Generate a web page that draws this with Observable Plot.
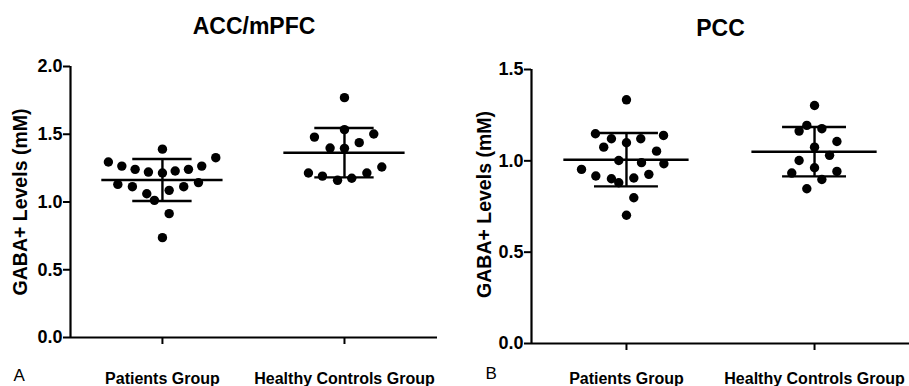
<!DOCTYPE html>
<html>
<head>
<meta charset="utf-8">
<script src="https://cdn.jsdelivr.net/npm/d3@7"></script>
<script src="https://cdn.jsdelivr.net/npm/@observablehq/plot@0.6"></script>
<style>
  html, body { margin: 0; padding: 0; background: white; }
  #wrap { position: relative; width: 909px; height: 386px; overflow: hidden; }
  #wrap svg { position: absolute; top: 0; }
</style>
</head>
<body>
<div id="wrap"></div>
<script>
// Categories
const groups = ["Patients Group", "Healthy Controls Group"];
const yTicksA = [0, 0.5, 1.0, 1.5, 2.0];
const yTicksB = [0, 0.5, 1.0, 1.5];

// Panel A: ACC/mPFC GABA+ (mM)
const accPatients = [1.39, 1.295, 1.327, 1.265, 1.265, 1.241, 1.221, 1.214, 1.229, 1.241, 1.130, 1.113, 1.113, 1.143, 1.086, 1.061, 1.012, 0.914, 0.737];
const accPatientsJitter = [0, -0.297, 0.293, -0.223, 0.216, -0.150, -0.077, 0, 0.070, 0.143, -0.245, -0.165, 0.117, 0.198, 0.037, -0.086, -0.044, 0.037, 0];
const accControls = [1.77, 1.479, 1.534, 1.502, 1.398, 1.396, 1.438, 1.214, 1.191, 1.160, 1.175, 1.214, 1.258];
const accControlsJitter = [0, -0.165, 0, 0.161, -0.079, 0, 0.081, -0.198, -0.121, -0.038, 0.040, 0.123, 0.205];
const accMean = [1.162, 1.364];
const accSD = [0.155, 0.182];

// Panel B: PCC GABA+ (mM)
const pccPatients = [1.334, 1.148, 1.139, 1.121, 1.121, 1.099, 1.075, 1.053, 1.002, 0.990, 0.984, 0.953, 0.917, 0.926, 0.902, 0.906, 0.880, 0.798, 0.702];
const pccPatientsJitter = [0, -0.165, 0.197, -0.080, 0.076, 0, -0.121, 0.160, -0.041, 0.080, 0.199, -0.239, -0.163, 0.119, -0.080, 0.039, -0.041, 0.039, 0];
const pccControls = [1.303, 1.163, 1.194, 1.176, 1.106, 1.075, 1.030, 1.002, 0.962, 0.933, 0.942, 0.898, 0.847];
const pccControlsJitter = [0, -0.082, -0.041, 0.039, 0.119, 0, 0.080, -0.082, 0, -0.121, 0.119, 0.039, -0.041];
const pccMean = [1.006, 1.050];
const pccSD = [0.146, 0.135];

const FONT = "'Liberation Sans', Arial, Helvetica, sans-serif";

function panel(o) {
  const points = [
    ...o.patients.map((v, i) => ({g: 0, x: 0 + o.pj[i], y: v})),
    ...o.controls.map((v, i) => ({g: 1, x: 1 + o.cj[i], y: v}))
  ];
  const summary = [0, 1].map(g => ({g, mean: o.mean[g], lo: o.mean[g] - o.sd[g], hi: o.mean[g] + o.sd[g]}));
  const half = 0.333, cap = o.cap, sw = 2.4;
  const yMax = o.yTicks[o.yTicks.length - 1];
  return Plot.plot({
    width: o.width,
    height: 386,
    marginLeft: o.marginLeft,
    marginRight: o.marginRight,
    marginTop: o.marginTop,
    marginBottom: o.marginBottom,
    style: {fontFamily: FONT, fontWeight: "bold", color: "black", background: "white", overflow: "visible"},
    x: {domain: o.xDomain, axis: null},
    y: {domain: [0, yMax], axis: null},
    marks: [
      Plot.ruleY([0], {stroke: "black", strokeWidth: 2.2}),
      Plot.ruleX([o.xDomain[0]], {y1: 0, y2: yMax, stroke: "black", strokeWidth: 2.2}),
      Plot.axisY({ticks: o.yTicks, tickFormat: d3.format(".1f"), tickSize: 7, tickPadding: 1, fontSize: 18, fontWeight: "bold", strokeWidth: 2, label: null}),
      Plot.axisX({ticks: [0, 1], tickFormat: i => groups[i], tickSize: 7, tickPadding: o.xPad, fontSize: 16, fontWeight: "bold", strokeWidth: 2, label: null}),
      Plot.ruleY(summary, {y: "mean", x1: d => d.g - half, x2: d => d.g + half, stroke: "black", strokeWidth: sw}),
      Plot.ruleX(summary, {x: "g", y1: "lo", y2: "hi", stroke: "black", strokeWidth: sw}),
      Plot.ruleY(summary, {y: "hi", x1: d => d.g - cap, x2: d => d.g + cap, stroke: "black", strokeWidth: sw}),
      Plot.ruleY(summary, {y: "lo", x1: d => d.g - cap, x2: d => d.g + cap, stroke: "black", strokeWidth: sw}),
      Plot.dot(points, {x: "x", y: "y", r: 4.7, fill: "black"}),
      Plot.text([o.title], {frameAnchor: "top", dy: o.titleDy, lineAnchor: "bottom", fontSize: 23, fontWeight: "bold"}),
      Plot.text(["GABA+ Levels (mM)"], {frameAnchor: "left", textAnchor: "middle", lineAnchor: "middle", dx: o.labelDx, dy: o.labelDy, rotate: -90, fontSize: 19.5, fontWeight: "bold"}),
      Plot.text([o.letter], {frameAnchor: "bottom-left", dx: o.letterDx, dy: o.letterDy, lineAnchor: "bottom", textAnchor: "start", fontSize: 17, fontWeight: "normal"})
    ]
  });
}

const wrap = document.getElementById("wrap");

const a = panel({
  title: "ACC/mPFC", letter: "A",
  patients: accPatients, pj: accPatientsJitter, controls: accControls, cj: accControlsJitter,
  mean: accMean, sd: accSD, yTicks: yTicksA, cap: 0.163,
  width: 450, marginLeft: 70, marginRight: 13, marginTop: 66, marginBottom: 49,
  xDomain: [-0.505, 1.511], xPad: 28,
  titleDy: -33, labelDx: -50, labelDy: 0, letterDx: -57, letterDy: 43
});
a.style.left = "0px";
wrap.appendChild(a);

const b = panel({
  title: "PCC", letter: "B",
  patients: pccPatients, pj: pccPatientsJitter, controls: pccControls, cj: pccControlsJitter,
  mean: pccMean, sd: pccSD, yTicks: yTicksB, cap: 0.17,
  width: 459, marginLeft: 81, marginRight: 0, marginTop: 69, marginBottom: 43,
  xDomain: [-0.505, 1.505], xPad: 22,
  titleDy: -34, labelDx: -46.5, labelDy: -2, letterDx: -46, letterDy: 35
});
b.style.left = "450px";
wrap.appendChild(b);
</script>
</body>
</html>
